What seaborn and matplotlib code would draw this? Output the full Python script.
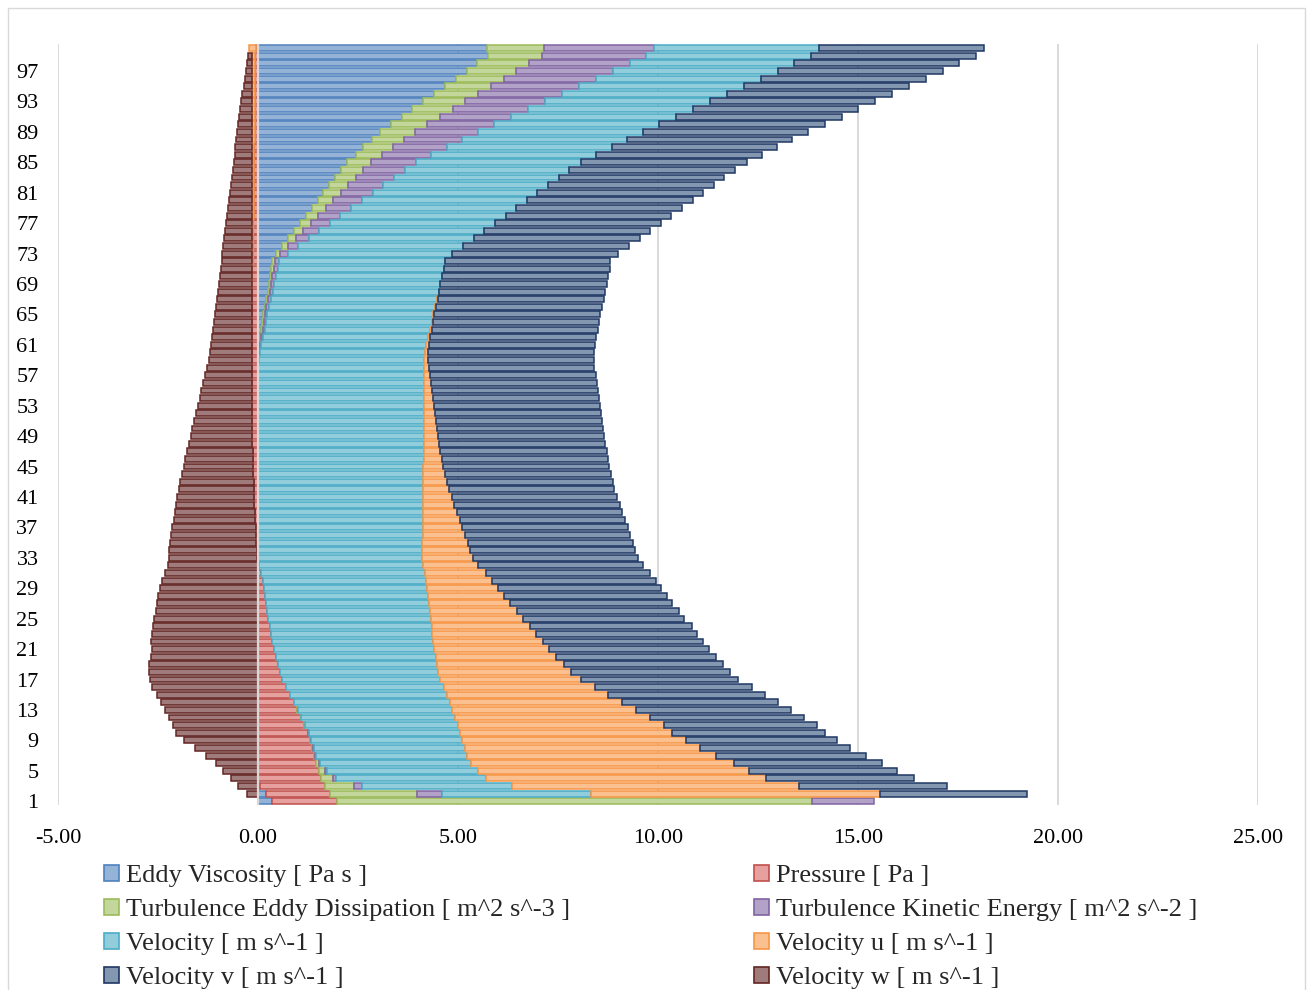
import numpy as np
import pandas as pd
import matplotlib
matplotlib.use("Agg")
import matplotlib.pyplot as plt
from matplotlib.patches import Patch, Rectangle
import seaborn as sns

# Category labels (stations 1..100, bottom to top)
rows = [str(i) for i in range(1, 101)]

eddy_viscosity = [
    0.34, 0.19, 0.05, 0.00, 0.00, 0.00, 0.00, 0.00, 0.00, 0.00,
    0.00, 0.00, 0.00, 0.00, 0.00, 0.00, 0.00, 0.00, 0.00, 0.00,
    0.00, 0.00, 0.00, 0.00, 0.00, 0.00, 0.00, 0.00, 0.00, 0.00,
    0.00, 0.00, 0.00, 0.00, 0.00, 0.00, 0.00, 0.00, 0.00, 0.00,
    0.00, 0.00, 0.00, 0.00, 0.00, 0.00, 0.00, 0.00, 0.00, 0.00,
    0.00, 0.00, 0.00, 0.00, 0.00, 0.00, 0.00, 0.00, 0.01, 0.02,
    0.03, 0.05, 0.08, 0.10, 0.13, 0.17, 0.20, 0.24, 0.28, 0.30,
    0.33, 0.35, 0.46, 0.61, 0.75, 0.90, 1.05, 1.19, 1.34, 1.49,
    1.63, 1.78, 1.93, 2.08, 2.23, 2.44, 2.63, 2.84, 3.06, 3.33,
    3.59, 3.86, 4.13, 4.40, 4.67, 4.95, 5.22, 5.47, 5.74, 5.72,
]

pressure = [
    1.63, 1.62, 1.62, 1.58, 1.52, 1.46, 1.39, 1.35, 1.30, 1.24,
    1.16, 1.07, 0.98, 0.90, 0.80, 0.70, 0.61, 0.54, 0.49, 0.44,
    0.39, 0.35, 0.32, 0.30, 0.26, 0.23, 0.21, 0.18, 0.15, 0.12,
    0.08, 0.03, -0.02, -0.03, -0.04, -0.05, -0.06, -0.07, -0.08, -0.09,
    -0.10, -0.10, -0.11, -0.12, -0.12, -0.13, -0.13, -0.14, -0.14, -0.14,
    -0.15, -0.15, -0.15, -0.15, -0.15, -0.15, -0.15, -0.15, -0.15, -0.15,
    -0.15, -0.15, -0.15, -0.15, -0.15, -0.15, -0.15, -0.15, -0.14, -0.14,
    -0.14, -0.13, -0.13, -0.13, -0.12, -0.12, -0.12, -0.11, -0.11, -0.11,
    -0.10, -0.10, -0.10, -0.09, -0.09, -0.09, -0.09, -0.08, -0.08, -0.08,
    -0.08, -0.08, -0.07, -0.07, -0.07, -0.07, -0.07, -0.07, -0.07, -0.06,
]

turb_eddy_dissipation = [
    11.88, 2.16, 0.72, 0.29, 0.16, 0.07, 0.04, 0.03, 0.02, 0.02,
    0.01, 0.01, 0.01, 0.01, 0.01, 0.01, 0.00, 0.00, 0.00, 0.00,
    0.00, 0.00, 0.00, 0.00, 0.00, 0.00, 0.00, 0.00, 0.00, 0.00,
    0.00, 0.00, 0.00, 0.00, 0.00, 0.00, 0.00, 0.00, 0.00, 0.00,
    0.00, 0.00, 0.00, 0.00, 0.00, 0.00, 0.00, 0.00, 0.00, 0.00,
    0.00, 0.00, 0.00, 0.00, 0.00, 0.00, 0.00, 0.00, 0.01, 0.01,
    0.02, 0.03, 0.04, 0.04, 0.04, 0.04, 0.05, 0.05, 0.05, 0.06,
    0.06, 0.07, 0.10, 0.15, 0.19, 0.23, 0.27, 0.32, 0.36, 0.39,
    0.44, 0.48, 0.51, 0.55, 0.60, 0.66, 0.74, 0.80, 0.87, 0.90,
    0.96, 1.01, 1.05, 1.10, 1.15, 1.19, 1.23, 1.31, 1.35, 1.43,
]

turb_kinetic_energy = [
    1.55, 0.64, 0.22, 0.07, 0.05, 0.03, 0.02, 0.02, 0.01, 0.01,
    0.00, 0.00, 0.00, 0.00, 0.00, 0.00, 0.00, 0.00, 0.00, 0.00,
    0.00, 0.00, 0.00, 0.00, 0.00, 0.00, 0.00, 0.00, 0.00, 0.00,
    0.00, 0.00, 0.00, 0.00, 0.00, 0.00, 0.00, 0.00, 0.00, 0.00,
    0.00, 0.00, 0.00, 0.00, 0.00, 0.00, 0.00, 0.00, 0.00, 0.00,
    0.00, 0.00, 0.00, 0.00, 0.00, 0.00, 0.00, 0.00, 0.01, 0.02,
    0.03, 0.04, 0.05, 0.06, 0.06, 0.07, 0.07, 0.08, 0.08, 0.09,
    0.10, 0.10, 0.18, 0.25, 0.33, 0.40, 0.48, 0.55, 0.63, 0.71,
    0.80, 0.87, 0.95, 1.04, 1.12, 1.23, 1.35, 1.46, 1.56, 1.68,
    1.78, 1.88, 2.00, 2.10, 2.21, 2.30, 2.42, 2.51, 2.61, 2.76,
]

velocity = [
    0.00, 3.72, 3.74, 3.76, 3.77, 3.77, 3.78, 3.77, 3.77, 3.79,
    3.82, 3.85, 3.87, 3.89, 3.91, 3.93, 3.95, 3.97, 3.99, 4.00,
    4.02, 4.03, 4.04, 4.05, 4.06, 4.07, 4.07, 4.08, 4.08, 4.08,
    4.09, 4.10, 4.11, 4.11, 4.11, 4.12, 4.12, 4.12, 4.12, 4.13,
    4.13, 4.13, 4.13, 4.13, 4.13, 4.14, 4.14, 4.14, 4.14, 4.14,
    4.14, 4.14, 4.14, 4.14, 4.14, 4.14, 4.14, 4.14, 4.12, 4.12,
    4.13, 4.13, 4.13, 4.14, 4.14, 4.14, 4.16, 4.16, 4.15, 4.15,
    4.15, 4.15, 4.12, 4.12, 4.12, 4.13, 4.13, 4.13, 4.13, 4.13,
    4.11, 4.13, 4.13, 4.11, 4.13, 4.13, 4.12, 4.13, 4.13, 4.12,
    4.13, 4.13, 4.12, 4.12, 4.12, 4.13, 4.12, 4.12, 4.13, 4.12,
]

velocity_u = [
    0.00, 7.22, 7.18, 7.01, 6.78, 6.56, 6.22, 5.88, 5.59, 5.29,
    5.15, 4.88, 4.60, 4.31, 4.04, 3.78, 3.51, 3.32, 3.18, 3.02,
    2.86, 2.74, 2.59, 2.45, 2.30, 2.17, 2.02, 1.90, 1.78, 1.66,
    1.53, 1.38, 1.27, 1.20, 1.13, 1.06, 0.99, 0.92, 0.86, 0.78,
    0.71, 0.65, 0.60, 0.55, 0.50, 0.45, 0.42, 0.39, 0.37, 0.34,
    0.32, 0.29, 0.26, 0.24, 0.21, 0.19, 0.15, 0.13, 0.09, 0.07,
    0.06, 0.05, 0.05, 0.04, 0.03, 0.03, 0.01, 0.00, -0.01, -0.01,
    -0.01, -0.02, -0.02, -0.02, -0.03, -0.03, -0.03, -0.04, -0.04, -0.04,
    -0.05, -0.05, -0.05, -0.06, -0.06, -0.06, -0.06, -0.07, -0.07, -0.07,
    -0.07, -0.07, -0.08, -0.08, -0.08, -0.08, -0.08, -0.08, -0.08, -0.16,
]

velocity_v = [
    0.00, 3.67, 3.69, 3.68, 3.70, 3.72, 3.74, 3.76, 3.79, 3.83,
    3.83, 3.85, 3.87, 3.89, 3.91, 3.92, 3.94, 3.98, 3.97, 4.00,
    4.01, 4.01, 4.03, 4.04, 4.04, 4.05, 4.06, 4.07, 4.07, 4.09,
    4.10, 4.11, 4.11, 4.12, 4.13, 4.12, 4.13, 4.14, 4.13, 4.13,
    4.14, 4.13, 4.14, 4.15, 4.15, 4.15, 4.16, 4.15, 4.14, 4.15,
    4.14, 4.15, 4.15, 4.15, 4.15, 4.15, 4.15, 4.14, 4.15, 4.15,
    4.15, 4.15, 4.15, 4.15, 4.14, 4.15, 4.15, 4.15, 4.16, 4.15,
    4.15, 4.14, 4.15, 4.14, 4.15, 4.15, 4.14, 4.14, 4.14, 4.15,
    4.15, 4.14, 4.14, 4.14, 4.14, 4.14, 4.14, 4.13, 4.13, 4.15,
    4.13, 4.13, 4.13, 4.13, 4.12, 4.12, 4.13, 4.12, 4.12, 4.13,
]

velocity_w = [
    0.00, -0.28, -0.50, -0.68, -0.87, -1.05, -1.29, -1.58, -1.85, -2.04,
    -2.12, -2.22, -2.33, -2.43, -2.53, -2.66, -2.70, -2.72, -2.72, -2.68,
    -2.66, -2.67, -2.66, -2.63, -2.59, -2.56, -2.53, -2.49, -2.46, -2.39,
    -2.32, -2.25, -2.20, -2.20, -2.16, -2.13, -2.08, -2.04, -2.00, -1.96,
    -1.92, -1.88, -1.84, -1.78, -1.74, -1.69, -1.65, -1.59, -1.54, -1.50,
    -1.45, -1.40, -1.35, -1.31, -1.27, -1.23, -1.17, -1.13, -1.08, -1.04,
    -1.02, -0.99, -0.97, -0.94, -0.92, -0.89, -0.87, -0.85, -0.83, -0.80,
    -0.78, -0.76, -0.74, -0.72, -0.70, -0.67, -0.64, -0.63, -0.60, -0.58,
    -0.56, -0.53, -0.51, -0.48, -0.46, -0.43, -0.42, -0.39, -0.37, -0.34,
    -0.32, -0.29, -0.27, -0.25, -0.21, -0.18, -0.16, -0.13, -0.11, 0.00,
]

series_names = [
    "Eddy Viscosity [ Pa s ]",
    "Pressure [ Pa ]",
    "Turbulence Eddy Dissipation [ m^2 s^-3 ]",
    "Turbulence Kinetic Energy [ m^2 s^-2 ]",
    "Velocity [ m s^-1 ]",
    "Velocity u [ m s^-1 ]",
    "Velocity v [ m s^-1 ]",
    "Velocity w [ m s^-1 ]",
]
series_values = [eddy_viscosity, pressure, turb_eddy_dissipation,
                 turb_kinetic_energy, velocity, velocity_u, velocity_v, velocity_w]
face_colors = ["#95b3d7", "#e6a09e", "#c3d69b", "#b3a2c7",
               "#92cddc", "#fac08f", "#8497b0", "#a07b7b"]
edge_colors = ["#4f81bd", "#c0504d", "#9bbb59", "#8064a2",
               "#4bacc6", "#f79646", "#1f3864", "#632523"]

x_ticks = [-5, 0, 5, 10, 15, 20, 25]
x_tick_labels = ["-5.00", "0.00", "5.00", "10.00", "15.00", "20.00", "25.00"]

sns.set_theme(style="white")
plt.rcParams["font.family"] = ["Liberation Serif", "DejaVu Serif"]
plt.rcParams["axes.unicode_minus"] = False

W, H = 1313, 990
fig = plt.figure(figsize=(W / 100, H / 100), dpi=100)
ax = fig.add_axes([58 / W, 1 - 805 / H, 1200 / W, (805 - 44.4) / H])

# Stacked diverging bars: positives grow rightwards, negatives leftwards
pos_base = np.zeros(len(rows))
neg_base = np.zeros(len(rows))
for name, vals, fc, ec in zip(series_names, series_values, face_colors, edge_colors):
    v = np.asarray(vals, dtype=float)
    start = np.where(v >= 0, pos_base, neg_base)
    df = pd.DataFrame({"row": rows, "value": v})
    n_before = len(ax.patches)
    sns.barplot(data=df, x="value", y="row", order=rows, orient="y",
                color=fc, saturation=1, errorbar=None, width=0.78,
                left=start, edgecolor=ec, linewidth=1.1, ax=ax)
    for p in ax.patches[n_before:]:
        if abs(p.get_width()) < 1e-9:
            p.set_visible(False)
    pos_base += np.where(v > 0, v, 0)
    neg_base += np.where(v < 0, v, 0)

ax.set_xlim(-5, 25)
ax.set_ylim(-0.5, len(rows) - 0.5)
ax.set_xticks(x_ticks)
ax.set_xticklabels(x_tick_labels)
ytick_pos = list(range(0, len(rows), 4))
ax.set_yticks(ytick_pos)
ax.set_yticklabels([rows[i] for i in ytick_pos])
ax.set_xlabel("")
ax.set_ylabel("")
ax.tick_params(axis="both", length=0, labelsize=16, colors="black")
ax.tick_params(axis="y", pad=14)
ax.tick_params(axis="x", pad=17)
ax.xaxis.grid(True, color="#d9d9d9", linewidth=1.4)
ax.yaxis.grid(False)
ax.set_axisbelow(True)
for s in ax.spines.values():
    s.set_visible(False)
ax.axvline(0, color="#d9d9d9", linewidth=1.6, zorder=3)

handles = [Patch(facecolor=fc, edgecolor=ec, linewidth=1.2, label=n)
           for n, fc, ec in zip(series_names, face_colors, edge_colors)]
leg_kw = dict(loc="upper left", frameon=False, fontsize=19, handlelength=0.55,
              handleheight=0.55, handletextpad=0.3, labelspacing=0.44,
              borderpad=0, borderaxespad=0)
fig.legend(handles=handles[0::2], bbox_to_anchor=(104 / W, 1 - 865 / H), **leg_kw)
fig.legend(handles=handles[1::2], bbox_to_anchor=(754 / W, 1 - 865 / H), **leg_kw)

# Outer chart frame
fig.patches.append(Rectangle((8 / W, -0.1), (1305 - 8) / W, 1 - 8 / H + 0.1,
                             transform=fig.transFigure, fill=False,
                             edgecolor="#d9d9d9", linewidth=1.0))

fig.savefig("out.png", dpi=100)
